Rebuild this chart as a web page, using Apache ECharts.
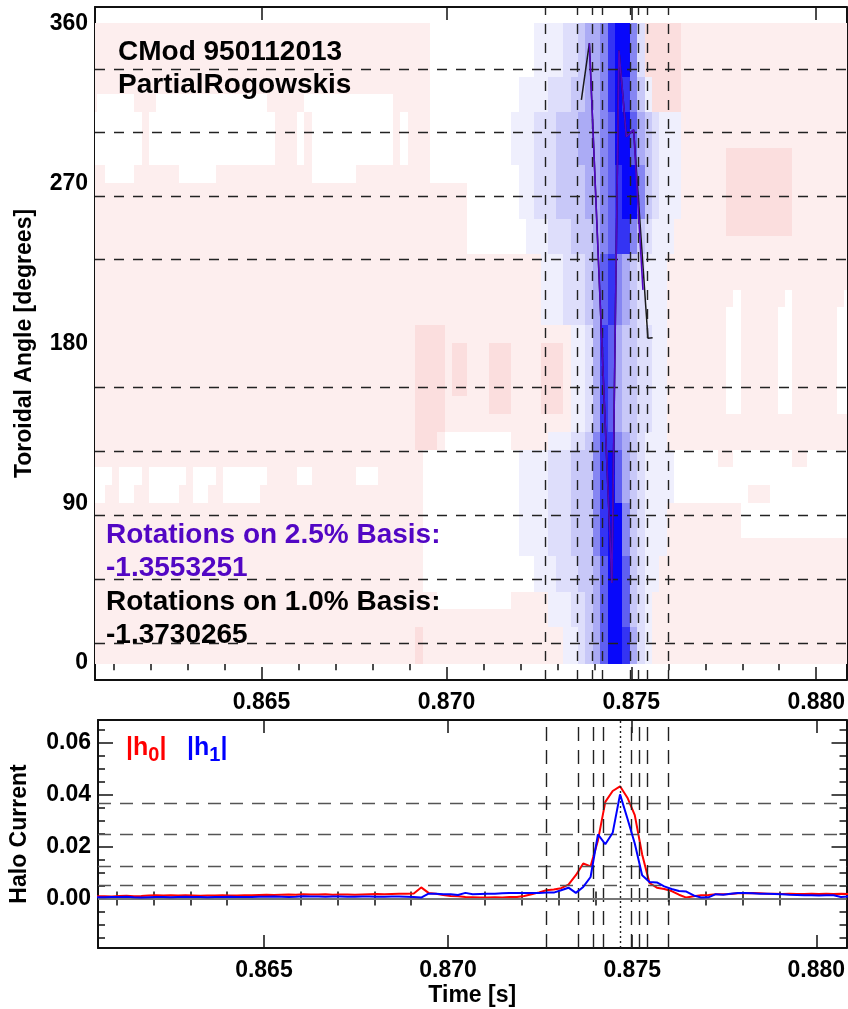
<!DOCTYPE html>
<html>
<head>
<meta charset="utf-8">
<script src="https://cdn.jsdelivr.net/npm/echarts@6/dist/echarts.min.js"></script>
<style>
  html, body { margin: 0; padding: 0; background: #ffffff; }
  #chart { width: 848px; height: 1009px; }
</style>
</head>
<body>
<div id="chart"></div>
<script>
// ---- time axis (seconds) ----
const X_MIN = 0.860495;
const X_MAX = 0.880819;
const timeTickLabels = [0.865, 0.870, 0.875, 0.880];
const timeMinorTicks = [0.861, 0.862, 0.863, 0.864, 0.866, 0.867, 0.868, 0.869,
                        0.871, 0.872, 0.873, 0.874, 0.876, 0.877, 0.878, 0.879];

// ---- toroidal angle axis (degrees) ----
const ANGLE_MIN = -9.5;
const ANGLE_MAX = 369.5;
const angleTicks = [0, 90, 180, 270, 360];

// ---- halo current axis ----
const HALO_MIN = -0.019;
const HALO_MAX = 0.0687;
const haloTickLabels = [0.00, 0.02, 0.04, 0.06];
const haloMinorTicks = [-0.015, -0.010, -0.005, 0.005, 0.010, 0.015, 0.025, 0.030,
                        0.035, 0.045, 0.050, 0.055, 0.065];

// partial Rogowski toroidal locations (degrees)
const sensorAngles = [11.4, 47.3, 83.4, 119.4, 155.1, 227.2, 263.1, 299.0, 334.5];
// event time markers (s)
const markerTimes = [0.872676, 0.873530, 0.873954, 0.874205, 0.874973, 0.875189, 0.875422, 0.875989];
const peakTime = 0.874665;
// halo current threshold levels
const haloLevels = [0.0368, 0.0246, 0.0125, 0.0053];

// sample times of the halo current signals (s)
const haloTimes = [
  0.86047, 0.86067, 0.86087, 0.86107, 0.86127, 0.86147, 0.86167, 0.86187, 0.86207, 0.86227,
  0.86247, 0.86267, 0.86287, 0.86307, 0.86327, 0.86347, 0.86367, 0.86387, 0.86407, 0.86427,
  0.86447, 0.86467, 0.86487, 0.86507, 0.86527, 0.86547, 0.86567, 0.86587, 0.86607, 0.86627,
  0.86647, 0.86667, 0.86687, 0.86707, 0.86727, 0.86747, 0.86767, 0.86787, 0.86807, 0.86827,
  0.86847, 0.86867, 0.86887, 0.86907, 0.86927, 0.86947, 0.86967, 0.86987, 0.87007, 0.87027,
  0.87047, 0.87067, 0.87087, 0.87107, 0.87127, 0.87147, 0.87167, 0.87187, 0.87207, 0.87227,
  0.87247, 0.87267, 0.87287, 0.87307, 0.87327, 0.87347, 0.87367, 0.87387, 0.87407, 0.87427,
  0.87447, 0.87467, 0.87487, 0.87507, 0.87527, 0.87547, 0.87567, 0.87587, 0.87607, 0.87627,
  0.87647, 0.87667, 0.87687, 0.87707, 0.87727, 0.87747, 0.87767, 0.87787, 0.87807, 0.87827,
  0.87847, 0.87867, 0.87887, 0.87907, 0.87927, 0.87947, 0.87967, 0.87987, 0.88007, 0.88027,
  0.88047, 0.88067, 0.88087
];

// |h0| (n = 0 mode amplitude)
const h0 = [
  0.0009, 0.0009, 0.0008, 0.0010, 0.0011, 0.0009, 0.0010, 0.0012, 0.0013, 0.0012,
  0.0013, 0.0012, 0.0013, 0.0012, 0.0011, 0.0012, 0.0012, 0.0013, 0.0012, 0.0012,
  0.0013, 0.0013, 0.0014, 0.0015, 0.0014, 0.0015, 0.0016, 0.0015, 0.0017, 0.0016,
  0.0016, 0.0017, 0.0015, 0.0016, 0.0016, 0.0015, 0.0016, 0.0017, 0.0018, 0.0017,
  0.0018, 0.0019, 0.0019, 0.0020, 0.0043, 0.0022, 0.0019, 0.0014, 0.0010, 0.0009,
  0.0006, 0.0005, 0.0004, 0.0004, 0.0005, 0.0004, 0.0006, 0.0006, 0.0010, 0.0017,
  0.0024, 0.0032, 0.0035, 0.0040, 0.0054, 0.0090, 0.0135, 0.0124, 0.0224, 0.0372,
  0.0414, 0.0432, 0.0388, 0.0321, 0.0170, 0.0060, 0.0042, 0.0037, 0.0029, 0.0015,
  0.0004, 0.0009, 0.0013, 0.0014, 0.0017, 0.0017, 0.0018, 0.0021, 0.0021, 0.0022,
  0.0021, 0.0019, 0.0019, 0.0018, 0.0019, 0.0018, 0.0018, 0.0019, 0.0018, 0.0019,
  0.0018, 0.0019, 0.0018
];

// |h1| (n = 1 mode amplitude)
const h1 = [
  0.0005, 0.0005, 0.0006, 0.0006, 0.0007, 0.0005, 0.0004, 0.0005, 0.0006, 0.0006,
  0.0005, 0.0006, 0.0007, 0.0006, 0.0006, 0.0005, 0.0006, 0.0006, 0.0007, 0.0006,
  0.0006, 0.0006, 0.0007, 0.0007, 0.0008, 0.0007, 0.0006, 0.0007, 0.0009, 0.0008,
  0.0008, 0.0007, 0.0008, 0.0008, 0.0007, 0.0007, 0.0008, 0.0008, 0.0007, 0.0007,
  0.0008, 0.0008, 0.0007, 0.0006, 0.0004, 0.0019, 0.0019, 0.0017, 0.0017, 0.0014,
  0.0022, 0.0017, 0.0018, 0.0019, 0.0019, 0.0021, 0.0022, 0.0022, 0.0022, 0.0022,
  0.0022, 0.0023, 0.0023, 0.0032, 0.0042, 0.0022, 0.0045, 0.0083, 0.0247, 0.0209,
  0.0253, 0.0401, 0.0308, 0.0212, 0.0090, 0.0064, 0.0062, 0.0047, 0.0037, 0.0029,
  0.0027, 0.0012, 0.0004, 0.0005, 0.0017, 0.0015, 0.0019, 0.0022, 0.0022, 0.0021,
  0.0019, 0.0019, 0.0018, 0.0017, 0.0015, 0.0014, 0.0013, 0.0013, 0.0012, 0.0013,
  0.0013, 0.0006, 0.0008
];

// filament track: toroidal angle vs time, 1.0% basis and 2.5% basis
const trackTimes1 = [0.873649, 0.873865, 0.874473, 0.874665, 0.874865, 0.875062, 0.875449, 0.875576];
const trackAngles1 = [317.2, 349.1, 45.2, 345.0, 296.5, 300.3, 183.0, 183.2];
const trackTimes25 = [0.873865, 0.874473, 0.874665, 0.874865, 0.875062, 0.875314];
const trackAngles25 = [349.1, 45.2, 345.0, 296.5, 300.3, 210.2];

// contour field: 10-degree rows (top row 350-360 first), one cell per sample time.
// run-length coded levels: w white, p weak positive, r positive, a..h increasing negative
const heatAngles = [355, 345, 335, 325, 315, 305, 295, 285, 275, 265, 255, 245,
                    235, 225, 215, 205, 195, 185, 175, 165, 155, 145, 135, 125,
                    115, 105, 95, 85, 75, 65, 55, 45, 35, 25, 15, 5];
const heatRows = [
  "p46 w14 a4 b2 c1 d2 e1 g1 h2 e1 b1 r5 p23",
  "p46 w14 a4 b2 c1 d2 e1 g1 h2 e1 b1 r5 p23",
  "p46 w14 a4 b2 c1 d2 e1 g1 h2 e1 b1 r5 p23",
  "p46 w12 a4 b3 c2 d2 e1 g1 h1 g1 e1 c1 a1 r4 p23",
  "p1 w5 p3 w15 p5 w12 p5 w12 a4 b3 c2 d2 e1 g1 h1 g1 e1 c1 a1 r4 p23",
  "w7 p1 w17 p3 w1 p1 w11 p1 w1 p3 w11 a3 b3 c3 d3 e1 f1 h2 f1 d1 c1 b1 a3 p23",
  "w7 p1 w17 p3 w1 p1 w11 p1 w1 p3 w11 a3 b3 c3 d3 e1 f1 h2 f1 d1 c1 b1 a3 p23",
  "w7 p1 w17 p3 w1 p1 w11 p1 w1 p3 w11 a3 b3 c3 d3 e1 f1 h2 f1 d1 c1 b1 a3 p6 r9 p8",
  "p2 w4 p6 w5 p13 w6 p10 w12 a2 b3 c4 d2 e1 f1 g1 h2 e1 c1 b1 a3 p6 r9 p8",
  "p51 w7 a2 b3 c4 d2 e1 f1 g1 h2 e1 c1 b1 a3 p6 r9 p8",
  "p51 w7 a2 b3 c4 d2 e1 f1 g1 h2 e1 c1 b1 a3 p6 r9 p8",
  "p51 w8 a3 b3 c3 d1 e1 f1 g2 e1 c1 b1 a3 p7 r9 p8",
  "p51 w8 a3 b3 c3 d1 e1 f1 g2 e1 c1 b1 a3 p24",
  "p61 a3 b3 c1 d1 f1 g1 e1 d1 c1 b1 a3 p25",
  "p61 a3 b3 c1 d1 f1 g1 e1 d1 c1 b1 a3 p25",
  "p61 a3 b3 c1 d1 f1 g1 e1 d1 c1 b1 a3 p9 w1 p6 w1 p7 w1",
  "p61 a3 b3 c1 d1 f1 g1 e1 d1 c1 b1 a3 p8 w2 p5 w2 p6 w2",
  "p44 r4 p17 a2 b1 d1 g1 f1 d1 c2 b2 a2 p8 w2 p5 w2 p6 w2",
  "p44 r4 p1 r2 p3 r3 p4 r3 p1 a2 b1 d1 g1 f1 d1 c2 b2 a2 p8 w2 p5 w2 p6 w2",
  "p44 r4 p1 r2 p3 r3 p4 r3 p1 a2 b1 d1 g1 f1 d1 c2 b2 a2 p8 w2 p5 w2 p6 w2",
  "p44 r4 p1 r2 p3 r3 p4 r3 p1 a2 b1 d1 g1 f1 d1 c2 b2 a2 p8 w2 p5 w2 p6 w2",
  "p44 r4 p6 r3 p4 r3 p1 a2 b1 d1 g1 f1 d1 c2 b2 a2 p8 w2 p5 w2 p6 w2",
  "p44 r4 p17 a2 b1 d1 g1 f1 d1 c2 b2 a2 p25",
  "p44 r3 p1 w9 p5 a3 b2 c1 e1 g2 e1 d1 c1 b1 a3 p25",
  "p45 w13 a4 b3 c3 e1 g1 h1 f1 d1 c1 b1 a4 w6 p2 w8 p2 w6",
  "w3 p1 w3 p1 w5 p1 w3 p1 w6 p4 w2 p6 w3 p6 w13 a4 b3 c3 e1 g1 h1 f1 d1 c1 b1 a4 w24",
  "w2 p2 w2 p2 w4 p2 w2 p2 w5 p22 w13 a4 b3 c3 e1 g1 h1 f1 d1 c1 b1 a4 w10 p3 w11",
  "p45 w13 a4 b3 c3 e1 g1 h2 e1 c1 b1 a3 p10 w15",
  "p45 w13 a4 b3 c3 e1 g1 h2 e1 c1 b1 a3 p10 w15",
  "p45 w13 a4 b3 c3 e1 g1 h2 e1 c1 b1 a3 p25",
  "p45 w15 a3 b3 c2 d1 f1 h2 f1 c1 b1 a2 p26",
  "p45 w15 a3 b3 c2 d1 f1 h2 f1 c1 b1 a2 p26",
  "p47 w10 p5 a3 b2 c1 d1 f1 h2 f1 c1 b1 a1 p27",
  "p62 a3 b2 c1 d1 f1 h2 f1 c1 b1 a1 p27",
  "p44 r1 p19 a2 b1 c1 d1 f1 h2 g1 d1 b1 a1 p27",
  "p44 r1 p19 a2 b1 c1 d1 f1 h2 g1 d1 b1 a1 p27"
];
const heatLevelCodes = "wprabcdefgh";
const heatPalette = ['#ffffff', '#fdeeee', '#fbdede',
                     '#efeffd', '#dedefb', '#c8c8f8', '#ababf5', '#8686f2', '#5f5ff1', '#3434f3', '#0808fa'];
const CELL_DT = 0.0002;
const CELL_DA = 10;

// ---------------------------------------------------------------------------
const FONT = "'Liberation Sans', Arial, Helvetica, sans-serif";
const INK = '#111111';
const PURPLE = '#5206c4';

function decodeRow(row) {
  const cells = [];
  const re = /([a-z])(\d+)/g;
  let m;
  while ((m = re.exec(row)) !== null) {
    const lv = heatLevelCodes.indexOf(m[1]);
    for (let i = 0; i < +m[2]; i++) cells.push(lv);
  }
  while (cells.length < haloTimes.length) cells.push(1);
  return cells.slice(0, haloTimes.length);
}

const heatCells = [];
heatRows.forEach((row, r) => {
  decodeRow(row).forEach((lv, k) => heatCells.push([haloTimes[k], heatAngles[r], lv]));
});

function xAxisSet(gridIndex, withLabels, name) {
  const common = { type: 'value', gridIndex, min: X_MIN, max: X_MAX, splitLine: { show: false } };
  const line = { show: true, onZero: false, lineStyle: { color: INK, width: 2 } };
  const tickStyle = { color: INK, width: 1.5 };
  const main = Object.assign({}, common, {
    position: 'bottom',
    axisLine: line,
    axisTick: { show: true, inside: true, length: 13, customValues: timeTickLabels, lineStyle: tickStyle },
    axisLabel: withLabels ? {
      show: true, customValues: timeTickLabels, formatter: v => v.toFixed(3), margin: 11,
      color: '#000', fontSize: 23, fontWeight: 'bold', fontFamily: FONT
    } : { show: false }
  });
  if (name) {
    Object.assign(main, {
      name, nameLocation: 'middle', nameGap: 36,
      nameTextStyle: { color: '#000', fontSize: 23, fontWeight: 'bold', fontFamily: FONT }
    });
  }
  return [
    main,
    Object.assign({}, common, { position: 'bottom', axisLine: { show: false },
      axisTick: { show: true, inside: true, length: 7, customValues: timeMinorTicks, lineStyle: tickStyle },
      axisLabel: { show: false } }),
    Object.assign({}, common, { position: 'top', axisLine: line,
      axisTick: { show: true, inside: true, length: 13, customValues: timeTickLabels, lineStyle: tickStyle },
      axisLabel: { show: false } }),
    Object.assign({}, common, { position: 'top', axisLine: { show: false },
      axisTick: { show: true, inside: true, length: 7, customValues: timeMinorTicks, lineStyle: tickStyle },
      axisLabel: { show: false } })
  ];
}

const tickStyle = { color: INK, width: 1.5 };
const frameLine = { show: true, onZero: false, lineStyle: { color: INK, width: 2 } };
const labelStyle = { color: '#000', fontSize: 23, fontWeight: 'bold', fontFamily: FONT };
const nameStyle = { color: '#000', fontSize: 23, fontWeight: 'bold', fontFamily: FONT };

const yAxes = [
  // top panel
  { type: 'value', gridIndex: 0, position: 'left', min: ANGLE_MIN, max: ANGLE_MAX, splitLine: { show: false },
    axisLine: frameLine,
    axisTick: { show: true, inside: true, length: 15, customValues: angleTicks, lineStyle: tickStyle },
    axisLabel: Object.assign({ show: true, customValues: angleTicks, margin: 7, formatter: v => String(v) }, labelStyle),
    name: 'Toroidal Angle [degrees]', nameLocation: 'middle', nameGap: 59, nameTextStyle: nameStyle },
  { type: 'value', gridIndex: 0, position: 'right', min: ANGLE_MIN, max: ANGLE_MAX, splitLine: { show: false },
    axisLine: frameLine,
    axisTick: { show: true, inside: true, length: 15, customValues: angleTicks, lineStyle: tickStyle },
    axisLabel: { show: false } },
  // bottom panel
  { type: 'value', gridIndex: 1, position: 'left', min: HALO_MIN, max: HALO_MAX, splitLine: { show: false },
    axisLine: frameLine,
    axisTick: { show: true, inside: true, length: 15, customValues: haloTickLabels, lineStyle: tickStyle },
    axisLabel: Object.assign({ show: true, customValues: haloTickLabels, margin: 7, formatter: v => v.toFixed(2) }, labelStyle),
    name: 'Halo Current', nameLocation: 'middle', nameGap: 67, nameTextStyle: nameStyle },
  { type: 'value', gridIndex: 1, position: 'left', min: HALO_MIN, max: HALO_MAX, splitLine: { show: false },
    axisLine: { show: false },
    axisTick: { show: true, inside: true, length: 7, customValues: haloMinorTicks, lineStyle: tickStyle },
    axisLabel: { show: false } },
  { type: 'value', gridIndex: 1, position: 'right', min: HALO_MIN, max: HALO_MAX, splitLine: { show: false },
    axisLine: frameLine,
    axisTick: { show: true, inside: true, length: 15, customValues: haloTickLabels, lineStyle: tickStyle },
    axisLabel: { show: false } },
  { type: 'value', gridIndex: 1, position: 'right', min: HALO_MIN, max: HALO_MAX, splitLine: { show: false },
    axisLine: { show: false },
    axisTick: { show: true, inside: true, length: 7, customValues: haloMinorTicks, lineStyle: tickStyle },
    axisLabel: { show: false } }
];

const dashTop = { color: '#222', width: 1.4, type: [10, 9] };
const dashBottomV = { color: '#222', width: 1.4, type: [14, 9] };
const dashBottomH = { color: '#555', width: 1.4, type: [13, 9] };
const noteFont = 'bold 28px ' + FONT;

const option = {
  animation: false,
  backgroundColor: '#ffffff',
  grid: [
    { left: 95, right: 1, top: 7, height: 673 },
    { left: 95, right: 1, top: 720, height: 228 }
  ],
  xAxis: xAxisSet(0, true, null).concat(xAxisSet(1, true, 'Time [s]')),
  yAxis: yAxes,
  series: [
    {
      type: 'custom', name: 'field', xAxisIndex: 0, yAxisIndex: 0, clip: true, silent: true, z: 1,
      data: heatCells,
      renderItem: function (params, api) {
        const t = api.value(0), a = api.value(1), lv = api.value(2);
        const tl = Math.max(t - CELL_DT / 2, X_MIN), tr = Math.min(t + CELL_DT / 2, X_MAX);
        if (tr <= tl) return;
        const p0 = api.coord([tl, a + CELL_DA / 2]);
        const p1 = api.coord([tr, a - CELL_DA / 2]);
        const x0 = Math.floor(p0[0]), x1 = Math.ceil(p1[0]);
        const y0 = Math.floor(p0[1]), y1 = Math.ceil(p1[1]);
        return { type: 'rect', shape: { x: x0, y: y0, width: x1 - x0, height: y1 - y0 },
                 style: { fill: heatPalette[lv] } };
      }
    },
    {
      type: 'line', name: 'sensors', xAxisIndex: 0, yAxisIndex: 0, data: [], z: 3,
      markLine: {
        silent: true, symbol: ['none', 'none'], label: { show: false }, animation: false, precision: 6,
        lineStyle: dashTop,
        data: sensorAngles.map(a => ({ yAxis: a })).concat(markerTimes.map(t => ({ xAxis: t })))
      }
    },
    {
      type: 'line', name: '1.0% basis', xAxisIndex: 0, yAxisIndex: 0, z: 4, showSymbol: false, silent: true,
      lineStyle: { color: '#1a1a1a', width: 1.5 },
      data: trackTimes1.map((t, i) => [t, trackAngles1[i]])
    },
    {
      type: 'line', name: '2.5% basis', xAxisIndex: 0, yAxisIndex: 0, z: 5, showSymbol: false, silent: true,
      lineStyle: { color: PURPLE, width: 1.6 },
      data: trackTimes25.map((t, i) => [t, trackAngles25[i]])
    },
    {
      type: 'line', name: 'levels', xAxisIndex: 4, yAxisIndex: 2, data: [], z: 3,
      markLine: {
        silent: true, symbol: ['none', 'none'], label: { show: false }, animation: false, precision: 6,
        data: haloLevels.map(v => ({ yAxis: v, lineStyle: dashBottomH }))
          .concat(markerTimes.map(t => ({ xAxis: t, lineStyle: dashBottomV })))
          .concat([{ xAxis: peakTime, lineStyle: { color: '#222', width: 1.4, type: [2, 3] } },
                   { yAxis: 0, lineStyle: { color: '#777', width: 2, type: 'solid' } }])
      }
    },
    {
      type: 'line', name: '|h0|', xAxisIndex: 4, yAxisIndex: 2, z: 4, showSymbol: false, silent: true,
      lineStyle: { color: '#ff0000', width: 2 },
      data: haloTimes.map((t, i) => [t, h0[i]])
    },
    {
      type: 'line', name: '|h1|', xAxisIndex: 4, yAxisIndex: 2, z: 5, showSymbol: false, silent: true,
      lineStyle: { color: '#0000ff', width: 2 },
      data: haloTimes.map((t, i) => [t, h1[i]])
    }
  ],
  graphic: [
    { type: 'text', x: 118, y: 52, z: 20, silent: true,
      style: { text: 'CMod 950112013', fill: '#000', font: noteFont, verticalAlign: 'middle', textVerticalAlign: 'middle' } },
    { type: 'text', x: 118, y: 85, z: 20, silent: true,
      style: { text: 'PartialRogowskis', fill: '#000', font: noteFont, verticalAlign: 'middle', textVerticalAlign: 'middle' } },
    { type: 'text', x: 106, y: 535, z: 20, silent: true,
      style: { text: 'Rotations on 2.5% Basis:', fill: PURPLE, font: noteFont, verticalAlign: 'middle', textVerticalAlign: 'middle' } },
    { type: 'text', x: 106, y: 568, z: 20, silent: true,
      style: { text: '-1.3553251', fill: PURPLE, font: noteFont, verticalAlign: 'middle', textVerticalAlign: 'middle' } },
    { type: 'text', x: 106, y: 602, z: 20, silent: true,
      style: { text: 'Rotations on 1.0% Basis:', fill: '#000', font: noteFont, verticalAlign: 'middle', textVerticalAlign: 'middle' } },
    { type: 'text', x: 106, y: 635, z: 20, silent: true,
      style: { text: '-1.3730265', fill: '#000', font: noteFont, verticalAlign: 'middle', textVerticalAlign: 'middle' } },
    { type: 'text', x: 126, y: 731, z: 20, silent: true,
      style: { text: '{m||h}{s|0}{m||}', fill: '#ff0000',
        rich: { m: { fontSize: 25, fontWeight: 'bold', fontFamily: FONT, lineHeight: 34, fill: '#ff0000' },
                s: { fontSize: 20, fontWeight: 'bold', fontFamily: FONT, lineHeight: 18, verticalAlign: 'bottom', fill: '#ff0000' } } } },
    { type: 'text', x: 187, y: 731, z: 20, silent: true,
      style: { text: '{m||h}{s|1}{m||}', fill: '#0000ff',
        rich: { m: { fontSize: 25, fontWeight: 'bold', fontFamily: FONT, lineHeight: 34, fill: '#0000ff' },
                s: { fontSize: 20, fontWeight: 'bold', fontFamily: FONT, lineHeight: 18, verticalAlign: 'bottom', fill: '#0000ff' } } } }
  ]
};

const chart = echarts.init(document.getElementById('chart'), null, { renderer: 'canvas' });
chart.setOption(option);
</script>
</body>
</html>
